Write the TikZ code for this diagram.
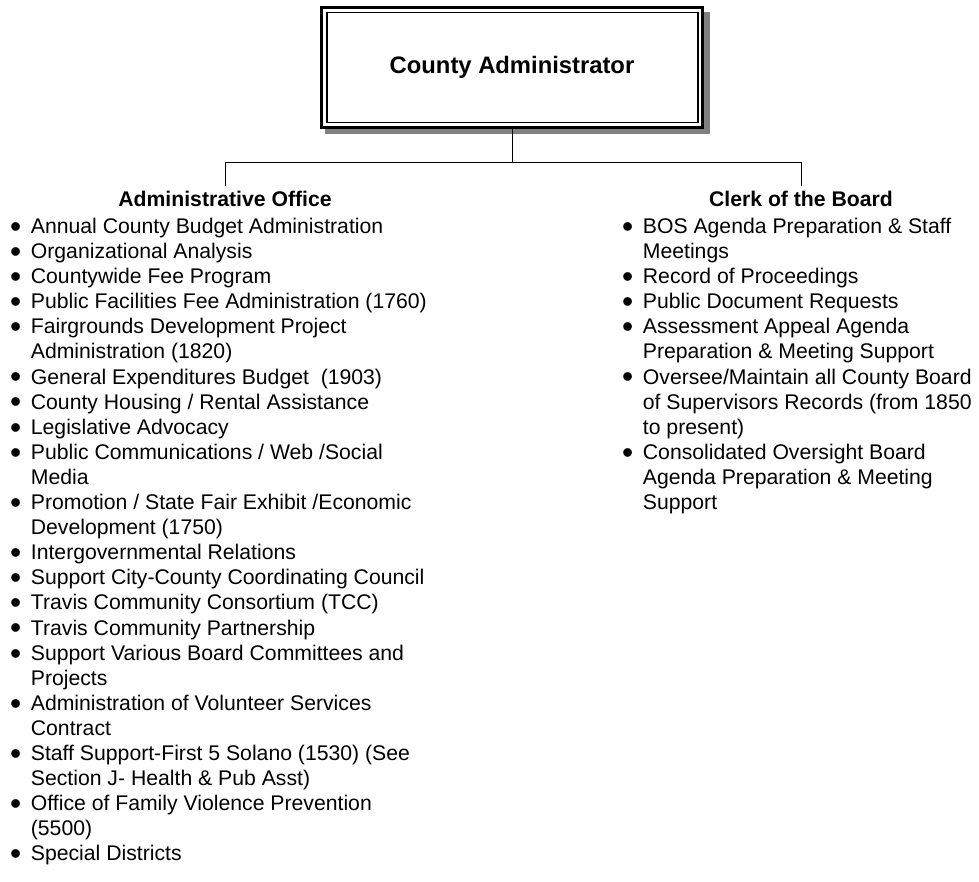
\documentclass[tikz,border=0pt]{standalone}
\usepackage{fontspec}
\setmainfont{Liberation Sans}
\usepackage{array}
\definecolor{shadowgray}{RGB}{128,128,128}
\newcommand\blt{\raisebox{-3.8pt}{\scalebox{1.5}{\textbullet}}}
\begin{document}
\begin{tikzpicture}[x=1pt,y=-1pt,
  body/.style={font=\fontsize{21.2}{25.1}\selectfont, inner sep=0pt, anchor=base west},
  hdr/.style={font=\fontsize{21.2}{25.1}\selectfont\bfseries, inner xsep=0pt, inner ysep=4.5pt, anchor=base},
  conn/.style={line width=0.9pt, draw=black},
  topbox/.style={draw, line width=3pt, fill=white, minimum width=381.8pt, minimum height=119.7pt, outer sep=0pt, inner sep=0pt, font=\fontsize{23.8}{28}\selectfont\bfseries}
]
\useasboundingbox (0,0) rectangle (979,882);
% shadow
\fill[shadowgray] (325,12.5) rectangle (710,134.5);
\node[topbox] (ca) at (512,67.2) {County Administrator};
\draw[line width=1.4pt] ([shift={(5.8,5.4)}]ca.north west) rectangle ([shift={(-5,-4.5)}]ca.south east);

\node[hdr] (hdrA) at (225,206.5) {Administrative Office};
\node[hdr] (hdrC) at (801,206.5) {Clerk of the Board};

\draw[conn] (ca.south) -- ++(0,35.8) coordinate (jn);
\draw[conn] (hdrA.north) |- (jn) -| (hdrC.north);

\node[body] (listA) at (10,233.5) {\begin{tabular}[t]{@{}p{20.7pt}@{}l@{}}
\blt & Annual County Budget Administration\\
\blt & Organizational Analysis\\
\blt & Countywide Fee Program\\
\blt & Public Facilities Fee Administration (1760)\\
\blt & Fairgrounds Development Project\\
     & Administration (1820)\\
\blt & General Expenditures Budget\ \ (1903)\\
\blt & County Housing / Rental Assistance\\
\blt & Legislative Advocacy\\
\blt & Public Communications / Web /Social\\
     & Media\\
\blt & Promotion / State Fair Exhibit /Economic\\
     & Development (1750)\\
\blt & Intergovernmental Relations\\
\blt & Support City-County Coordinating Council\\
\blt & Travis Community Consortium (TCC)\\
\blt & Travis Community Partnership\\
\blt & Support Various Board Committees and\\
     & Projects\\
\blt & Administration of Volunteer Services\\
     & Contract\\
\blt & Staff Support-First 5 Solano (1530) (See\\
     & Section J- Health \& Pub Asst)\\
\blt & Office of Family Violence Prevention\\
     & (5500)\\
\blt & Special Districts
\end{tabular}};

\node[body] (listC) at (622,233.5) {\begin{tabular}[t]{@{}p{20.7pt}@{}l@{}}
\blt & BOS Agenda Preparation \& Staff\\
     & Meetings\\
\blt & Record of Proceedings\\
\blt & Public Document Requests\\
\blt & Assessment Appeal Agenda\\
     & Preparation \& Meeting Support\\
\blt & Oversee/Maintain all County Board\\
     & of Supervisors Records (from 1850\\
     & to present)\\
\blt & Consolidated Oversight Board\\
     & Agenda Preparation \& Meeting\\
     & Support
\end{tabular}};
\end{tikzpicture}
\end{document}
